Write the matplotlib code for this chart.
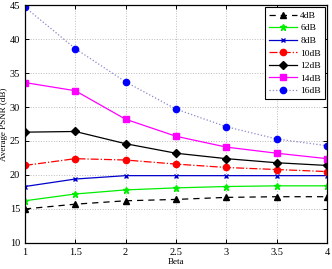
import matplotlib
matplotlib.use("Agg")
import matplotlib.pyplot as plt

plt.rcParams["font.family"] = ["Liberation Serif", "DejaVu Serif"]

beta = [1, 1.5, 2, 2.5, 3, 3.5, 4]
psnr_4db = [15.0, 15.7, 16.2, 16.4, 16.7, 16.8, 16.8]
psnr_6db = [16.2, 17.2, 17.8, 18.1, 18.3, 18.4, 18.4]
psnr_8db = [18.3, 19.4, 19.9, 19.9, 19.9, 19.9, 19.9]
psnr_10db = [21.4, 22.4, 22.2, 21.6, 21.1, 20.8, 20.5]
psnr_12db = [26.3, 26.4, 24.6, 23.2, 22.4, 21.8, 21.4]
psnr_14db = [33.6, 32.4, 28.2, 25.7, 24.1, 23.2, 22.4]
psnr_16db = [44.7, 38.6, 33.7, 29.7, 27.1, 25.3, 24.3]

fig = plt.figure(figsize=(3.32, 2.69), dpi=100)
ax = fig.add_axes([0.075, 0.097, 0.91, 0.884])

ax.plot(beta, psnr_4db, color="black", linestyle=(0, (5, 4)), marker="^", markersize=4.5, lw=0.9, label="4dB")
ax.plot(beta, psnr_6db, color="#00ee00", linestyle="-", marker="*", markersize=4.5, lw=0.9, label="6dB")
ax.plot(beta, psnr_8db, color="#0000cc", linestyle="-", marker="x", markersize=3, mew=1.0, lw=0.9, label="8dB")
ax.plot(beta, psnr_10db, color="#ff0000", linestyle="-.", marker="o", markersize=4.5, lw=0.9, label="10dB")
ax.plot(beta, psnr_12db, color="black", linestyle="-", marker="D", markersize=4, lw=0.9, label="12dB")
ax.plot(beta, psnr_14db, color="#ff00ff", linestyle="-", marker="s", markersize=4, lw=0.9, label="14dB")
ax.plot(beta, psnr_16db, color="#8888cc", linestyle=":", marker="o", markersize=4.5,
        mfc="#0000ff", mec="#0000ff", lw=0.9, label="16dB")

ax.set_xlim(1, 4)
ax.set_ylim(10, 45)
ax.set_xticks([1, 1.5, 2, 2.5, 3, 3.5, 4])
ax.set_xticklabels(["1", "1.5", "2", "2.5", "3", "3.5", "4"])
ax.set_yticks(range(10, 46, 5))
ax.tick_params(direction="in", labelsize=7.5, length=3, top=True, right=True, width=0.7)
ax.grid(True, linestyle=":", color="#bbbbbb", linewidth=0.7)
for s in ax.spines.values():
    s.set_linewidth(0.9)
ax.set_xlabel("Beta", fontsize=6.5, labelpad=1)
ax.set_ylabel("Average PSNR (dB)", fontsize=6.5, labelpad=1)

leg = ax.legend(loc="upper right", fontsize=6.8, fancybox=False, edgecolor="black",
                framealpha=1, borderaxespad=0.25, handlelength=3.0, labelspacing=0.42,
                borderpad=0.4, handletextpad=0.3)
leg.get_frame().set_linewidth(0.8)

fig.savefig("out.png", dpi=100)
